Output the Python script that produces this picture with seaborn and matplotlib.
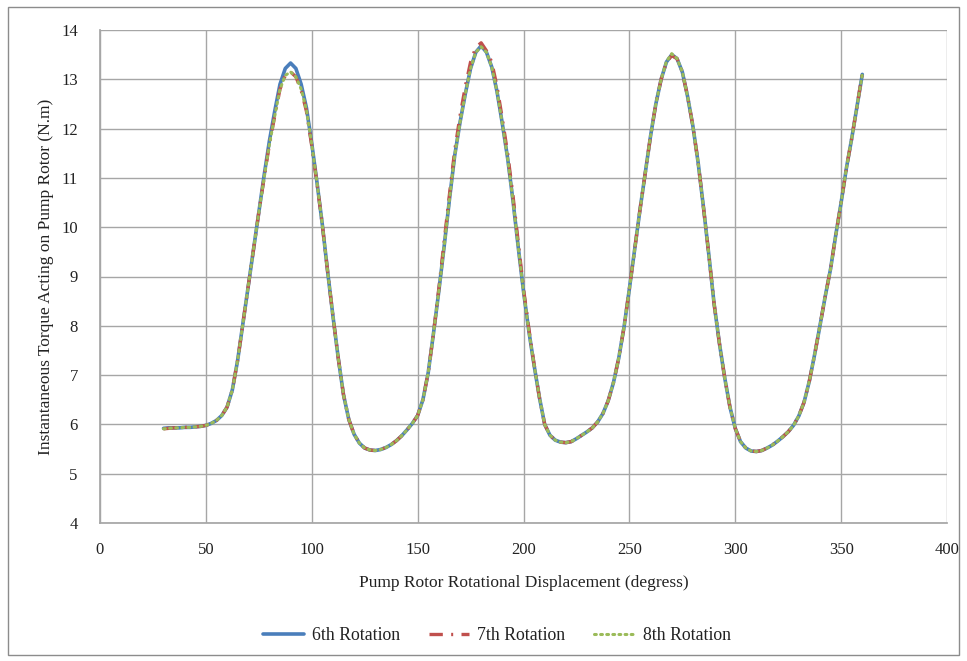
import numpy as np
import pandas as pd
import matplotlib
matplotlib.use("Agg")
import matplotlib.pyplot as plt
import seaborn as sns
from matplotlib.patches import Rectangle

# ---- data ----
angle = [30, 32.5, 35, 37.5, 40, 42.5, 45, 47.5, 50, 52.5, 55, 57.5, 60, 62.5, 65, 67.5,
         70, 72.5, 75, 77.5, 80, 82.5, 85, 87.5, 90, 92.5, 95, 97.5, 100, 102.5, 105, 107.5,
         110, 112.5, 115, 117.5, 120, 122.5, 125, 127.5, 130, 132.5, 135, 137.5, 140, 142.5,
         145, 147.5, 150, 152.5, 155, 157.5, 160, 162.5, 165, 167.5, 170, 172.5, 175, 177.5,
         180, 182.5, 185, 187.5, 190, 192.5, 195, 197.5, 200, 202.5, 205, 207.5, 210, 212.5,
         215, 217.5, 220, 222.5, 225, 227.5, 230, 232.5, 235, 237.5, 240, 242.5, 245, 247.5,
         250, 252.5, 255, 257.5, 260, 262.5, 265, 267.5, 270, 272.5, 275, 277.5, 280, 282.5,
         285, 287.5, 290, 292.5, 295, 297.5, 300, 302.5, 305, 307.5, 310, 312.5, 315, 317.5,
         320, 322.5, 325, 327.5, 330, 332.5, 335, 337.5, 340, 342.5, 345, 347.5, 350, 352.5,
         355, 357.5, 360]

rot6 = [5.92, 5.93, 5.93, 5.93, 5.94, 5.94, 5.95, 5.96, 5.98, 6.02, 6.08, 6.18, 6.35, 6.70, 7.30, 8.05,
        8.80, 9.55, 10.30, 11.05, 11.75, 12.35, 12.90, 13.22, 13.33, 13.22, 12.90, 12.42, 11.70, 10.90, 10.05, 9.10,
        8.20, 7.35, 6.60, 6.10, 5.80, 5.62, 5.52, 5.48, 5.47, 5.49, 5.53, 5.59, 5.67, 5.77,
        5.89, 6.02, 6.18, 6.50, 7.05, 7.85, 8.70, 9.60, 10.55, 11.45, 12.12, 12.70, 13.22, 13.55,
        13.68, 13.55, 13.25, 12.75, 12.10, 11.40, 10.55, 9.60, 8.70, 7.90, 7.20, 6.55, 6.00, 5.78,
        5.68, 5.64, 5.63, 5.65, 5.71, 5.78, 5.85, 5.93, 6.05, 6.22, 6.48, 6.85, 7.35, 7.98,
        8.75, 9.55, 10.35, 11.10, 11.85, 12.50, 13.00, 13.35, 13.50, 13.42, 13.15, 12.65, 12.05, 11.30,
        10.40, 9.45, 8.45, 7.65, 6.95, 6.35, 5.92, 5.65, 5.52, 5.46, 5.45, 5.47, 5.52, 5.58,
        5.66, 5.75, 5.85, 5.98, 6.17, 6.45, 6.88, 7.42, 8.00, 8.60, 9.15, 9.85, 10.50, 11.20,
        11.80, 12.45, 13.10]

rot7 = [5.91, 5.92, 5.93, 5.93, 5.94, 5.94, 5.95, 5.96, 5.98, 6.02, 6.08, 6.18, 6.35, 6.70, 7.30, 8.05,
        8.80, 9.55, 10.30, 11.00, 11.68, 12.25, 12.80, 13.08, 13.15, 13.05, 12.78, 12.35, 11.65, 10.88, 10.05, 9.10,
        8.20, 7.35, 6.60, 6.10, 5.80, 5.62, 5.52, 5.48, 5.47, 5.49, 5.53, 5.59, 5.67, 5.77,
        5.89, 6.02, 6.18, 6.50, 7.05, 7.85, 8.75, 9.70, 10.65, 11.55, 12.25, 12.85, 13.35, 13.65,
        13.74, 13.58, 13.35, 12.85, 12.20, 11.50, 10.65, 9.70, 8.75, 7.95, 7.22, 6.55, 6.00, 5.78,
        5.68, 5.64, 5.63, 5.65, 5.71, 5.78, 5.85, 5.93, 6.05, 6.22, 6.48, 6.85, 7.35, 7.98,
        8.75, 9.55, 10.35, 11.10, 11.85, 12.50, 13.00, 13.35, 13.48, 13.42, 13.15, 12.65, 12.05, 11.30,
        10.40, 9.45, 8.45, 7.65, 6.95, 6.35, 5.92, 5.65, 5.52, 5.46, 5.45, 5.47, 5.52, 5.58,
        5.66, 5.75, 5.85, 5.98, 6.17, 6.45, 6.88, 7.42, 8.00, 8.60, 9.15, 9.85, 10.50, 11.20,
        11.80, 12.45, 13.12]

rot8 = [5.91, 5.92, 5.93, 5.93, 5.94, 5.94, 5.95, 5.96, 5.98, 6.02, 6.08, 6.18, 6.35, 6.70, 7.30, 8.05,
        8.80, 9.55, 10.30, 11.00, 11.68, 12.25, 12.80, 13.08, 13.15, 13.05, 12.80, 12.38, 11.68, 10.90, 10.05, 9.10,
        8.20, 7.35, 6.60, 6.10, 5.80, 5.62, 5.52, 5.48, 5.47, 5.49, 5.53, 5.59, 5.67, 5.77,
        5.89, 6.02, 6.18, 6.50, 7.05, 7.85, 8.70, 9.60, 10.55, 11.45, 12.12, 12.70, 13.22, 13.55,
        13.66, 13.55, 13.25, 12.75, 12.10, 11.40, 10.55, 9.60, 8.70, 7.90, 7.20, 6.55, 6.00, 5.78,
        5.68, 5.64, 5.63, 5.65, 5.71, 5.78, 5.85, 5.93, 6.05, 6.22, 6.48, 6.85, 7.35, 7.98,
        8.75, 9.55, 10.35, 11.10, 11.85, 12.50, 13.00, 13.36, 13.52, 13.42, 13.15, 12.65, 12.05, 11.30,
        10.40, 9.45, 8.45, 7.65, 6.95, 6.35, 5.92, 5.65, 5.52, 5.46, 5.45, 5.47, 5.52, 5.58,
        5.66, 5.75, 5.85, 5.98, 6.17, 6.45, 6.88, 7.42, 8.00, 8.60, 9.15, 9.85, 10.50, 11.20,
        11.80, 12.45, 13.10]

series_names = ["6th Rotation", "7th Rotation", "8th Rotation"]
x_ticks = [0, 50, 100, 150, 200, 250, 300, 350, 400]
y_ticks = [4, 5, 6, 7, 8, 9, 10, 11, 12, 13, 14]

# ---- styling ----
sns.set_theme(style="white")
plt.rcParams["font.family"] = ["Liberation Serif", "DejaVu Serif"]

fig = plt.figure(figsize=(9.67, 6.61), dpi=100)
ax = fig.add_axes([100 / 967, 1 - 523 / 661, 847 / 967, 493 / 661])

grid_col = "#a6a6a6"
colors = ["#4a7ebb", "#c0504d", "#9bbb59"]

ax.set_xlim(0, 400)
ax.set_ylim(4, 14)
ax.set_xticks(x_ticks)
ax.set_yticks(y_ticks)
ax.grid(True, color=grid_col, linewidth=1.0)
ax.set_axisbelow(True)
for s in ax.spines.values():
    s.set_visible(False)
ax.spines["left"].set_visible(True)
ax.spines["bottom"].set_visible(True)
ax.spines["left"].set_color(grid_col)
ax.spines["bottom"].set_color(grid_col)

df = pd.DataFrame({"angle": angle, series_names[0]: rot6,
                   series_names[1]: rot7, series_names[2]: rot8})

sns.lineplot(data=df, x="angle", y=series_names[0], ax=ax, color=colors[0],
             linewidth=2.6, label=series_names[0], solid_capstyle="round")
sns.lineplot(data=df, x="angle", y=series_names[1], ax=ax, color=colors[1],
             linewidth=2.4, label=series_names[1], dashes=(4, 2.5, 0.6, 2.5),
             dash_capstyle="butt")
sns.lineplot(data=df, x="angle", y=series_names[2], ax=ax, color=colors[2],
             linewidth=2.2, label=series_names[2], linestyle=(0, (0.6, 1.4)),
             dash_capstyle="round")

ax.tick_params(axis="both", length=0, labelsize=12, colors="#222222")
ax.tick_params(axis="y", pad=16)
ax.tick_params(axis="x", pad=14)
ax.set_xlabel("Pump Rotor Rotational Displacement (degress)", fontsize=12.5,
              color="#222222", labelpad=12)
ax.set_ylabel("Instantaneous Torque Acting on Pump Rotor (N.m)", fontsize=12.5,
              color="#222222", labelpad=5)

leg = ax.legend(loc="center", bbox_to_anchor=(497 / 967, 1 - 636 / 661), bbox_transform=fig.transFigure,
                ncol=3, frameon=False, fontsize=12.8, handlelength=2.3, columnspacing=1.6,
                handletextpad=0.45)
for t in leg.get_texts():
    t.set_color("#222222")

fig.patches.append(Rectangle((8 / 967, 1 - 655 / 661), 951 / 967, 648 / 661,
                             transform=fig.transFigure, fill=False,
                             edgecolor="#8c8c8c", linewidth=1.0))

fig.savefig("out.png", dpi=100, facecolor="white")
